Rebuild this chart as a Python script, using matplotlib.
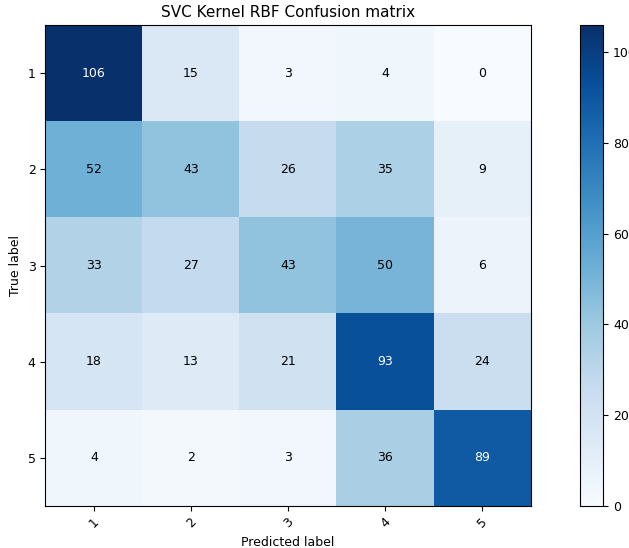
import numpy as np
import matplotlib.pyplot as plt

classes = ['1', '2', '3', '4', '5']
cm = np.array([[106, 15, 3, 4, 0],
               [52, 43, 26, 35, 9],
               [33, 27, 43, 50, 6],
               [18, 13, 21, 93, 24],
               [4, 2, 3, 36, 89]])

fig = plt.figure(figsize=(6.29, 5.48), dpi=100)
ax = fig.add_axes([0.072, 0.077, 0.772, 0.877])
cax = fig.add_axes([0.922, 0.077, 0.037, 0.877])

im = ax.imshow(cm, interpolation='nearest', cmap=plt.cm.Blues, aspect='auto')
ax.set_title('SVC Kernel RBF Confusion matrix', fontsize=11)
cb = fig.colorbar(im, cax=cax)
cb.ax.tick_params(labelsize=9)

ticks = np.arange(len(classes))
ax.set_xticks(ticks)
ax.set_xticklabels(classes, rotation=45, fontsize=9)
ax.set_yticks(ticks)
ax.set_yticklabels(classes, fontsize=9)

thresh = cm.max() / 2.
for i in range(cm.shape[0]):
    for j in range(cm.shape[1]):
        ax.text(j, i, format(cm[i, j], 'd'), ha='center', va='center', fontsize=9,
                color='white' if cm[i, j] > thresh else 'black')

ax.set_ylabel('True label', fontsize=9)
ax.set_xlabel('Predicted label', fontsize=9)
fig.savefig('out.png')
